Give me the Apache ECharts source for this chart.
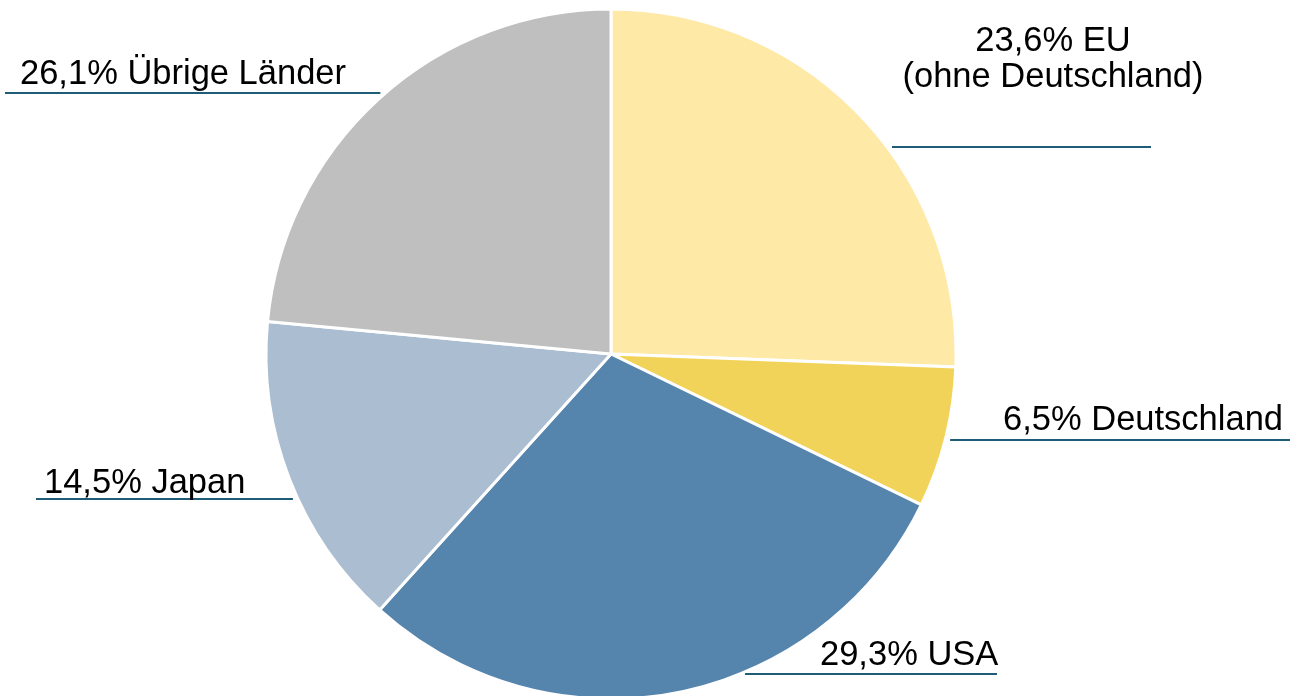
<!DOCTYPE html>
<html>
<head>
<meta charset="utf-8">
<script src="https://cdn.jsdelivr.net/npm/echarts@6/dist/echarts.min.js"></script>
<style>
  html, body { margin: 0; padding: 0; background: #fff; }
  #chart { width: 1292px; height: 696px; }
</style>
</head>
<body>
<div id="chart"></div>
<script>
var regions = ['EU', 'Deutschland', 'USA', 'Japan', 'Übrige Länder'];
var shares = [25.6, 6.6, 29.5, 14.8, 23.5];
// label texts as printed on the chart
var labelTexts = [
    '23,6% EU\n(ohne Deutschland)',
    '6,5% Deutschland',
    '29,3% USA',
    '14,5% Japan',
    '26,1% Übrige Länder'
];

var colors = ['#FEE9A6', '#F2D35A', '#5584AD', '#AABDD1', '#BFBFBF'];

var CX = 611, CY = 354, R = 345;

// where each label sits and how far its underline runs
var spots = [
    {x: 1053, y: 59, align: 'center', lineY: 147, side: 1, outer: 1151},
    {x: 1283, y: 420, align: 'right', lineY: 440, side: 1, outer: 1290},
    {x: 820, y: 655, align: 'left', lineY: 674, side: 1, outer: 997},
    {x: 44, y: 483, align: 'left', lineY: 499, side: -1, outer: 36},
    {x: 20, y: 74, align: 'left', lineY: 93, side: -1, outer: 5}
];

function edgeX(y, side) {
    var dy = y - CY;
    return CX + side * (Math.sqrt(R * R - dy * dy) + 5);
}

var chart = echarts.init(document.getElementById('chart'));

chart.setOption({
    animation: false,
    series: [{
        type: 'pie',
        center: [CX, CY],
        radius: R,
        startAngle: 90,
        clockwise: true,
        avoidLabelOverlap: false,
        itemStyle: {
            borderColor: '#ffffff',
            borderWidth: 3
        },
        emphasis: { disabled: true },
        label: {
            show: true,
            position: 'outside',
            width: 500,
            overflow: 'none',
            fontFamily: 'Liberation Sans, Arial, sans-serif',
            fontSize: 34.5,
            lineHeight: 36,
            color: '#000000',
            formatter: function (p) {
                return labelTexts[p.dataIndex];
            }
        },
        labelLine: {
            show: true,
            lineStyle: {
                color: '#1F5C78',
                width: 2
            }
        },
        labelLayout: function (p) {
            var s = spots[p.dataIndex];
            var inner = edgeX(s.lineY, s.side);
            return {
                x: s.x,
                y: s.y,
                align: s.align,
                verticalAlign: 'middle',
                labelLinePoints: [
                    [inner, s.lineY],
                    [(inner + s.outer) / 2, s.lineY],
                    [s.outer, s.lineY]
                ]
            };
        },
        data: regions.map(function (name, i) {
            return {
                name: name,
                value: shares[i],
                itemStyle: { color: colors[i] }
            };
        })
    }]
});
</script>
</body>
</html>
